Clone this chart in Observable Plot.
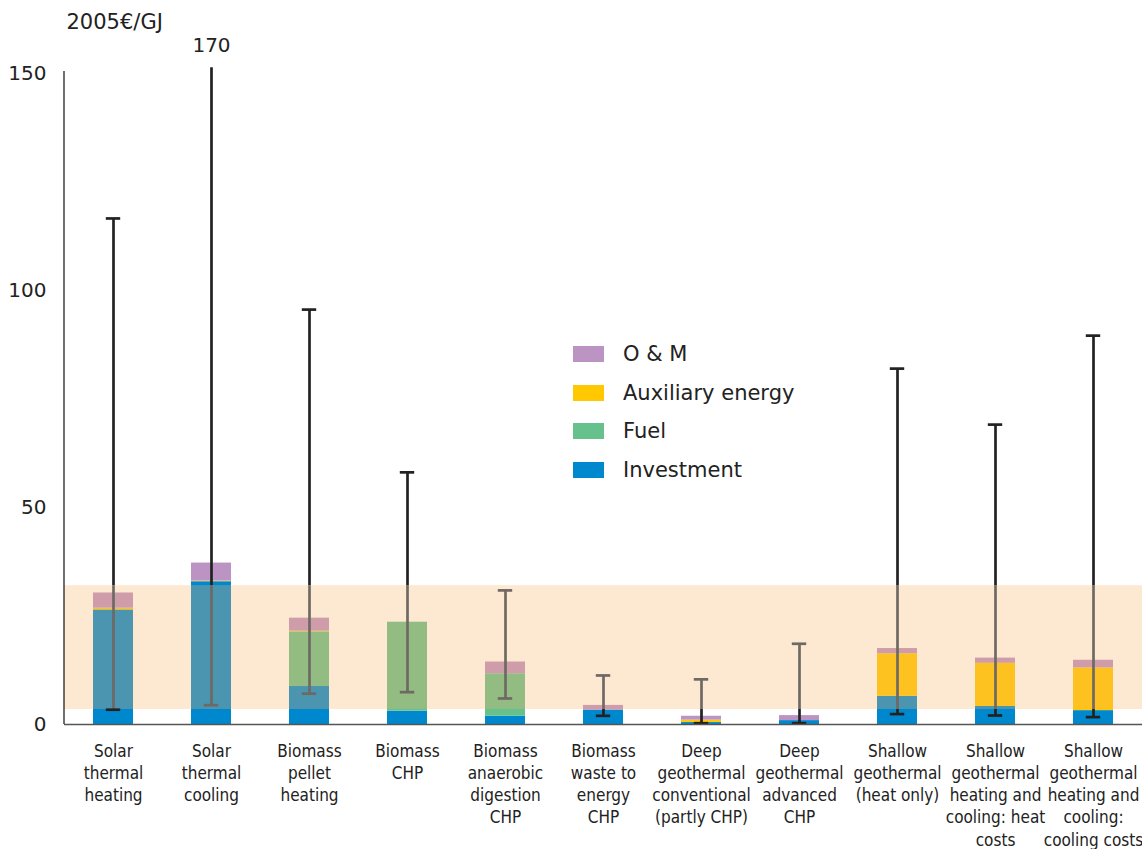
<!DOCTYPE html>
<html>
<head>
<meta charset="utf-8">
<script src="https://cdn.jsdelivr.net/npm/d3@7"></script>
<script src="https://cdn.jsdelivr.net/npm/@observablehq/plot@0.6"></script>
<style>
  body { margin: 0; background: #fff; font-family: "DejaVu Sans", sans-serif; }
  #wrap { position: relative; width: 1142px; height: 849px; }
  .lg { position: absolute; display: flex; align-items: center; font-size: 21px; color: #222; white-space: nowrap; }
  .sw { width: 31px; height: 16px; margin-right: 19px; }
</style>
</head>
<body>
<div id="wrap"></div>
<script>
const categories = [
  "Solar\nthermal\nheating",
  "Solar\nthermal\ncooling",
  "Biomass\npellet\nheating",
  "Biomass\nCHP",
  "Biomass\nanaerobic\ndigestion\nCHP",
  "Biomass\nwaste to\nenergy\nCHP",
  "Deep\ngeothermal\nconventional\n(partly CHP)",
  "Deep\ngeothermal\nadvanced\nCHP",
  "Shallow\ngeothermal\n(heat only)",
  "Shallow\ngeothermal\nheating and\ncooling: heat\ncosts",
  "Shallow\ngeothermal\nheating and\ncooling:\ncooling costs"
];
const components = ["Investment", "Fuel", "Auxiliary energy", "O & M"];
const componentColors = ["#0088ce", "#66c18c", "#ffc800", "#bc94c4"];
const investment = [26.4, 32.9, 8.75, 3.07, 1.9, 3.3, 0.45, 0.9, 6.5, 4.15, 3.2];
const fuel       = [0, 0, 12.6, 20.5, 9.8, 0, 0, 0, 0, 0, 0];
const auxiliary  = [0.4, 0.15, 0.15, 0, 0, 0, 0.55, 0, 9.8, 9.95, 9.85];
const om         = [3.5, 4.15, 3.0, 0, 2.7, 1.1, 0.9, 1.15, 1.2, 1.2, 1.75];
const errLow  = [3.4, 4.45, 7.1, 7.45, 6.0, 2.0, 0.3, 0.3, 2.4, 2.07, 1.7];
const errHigh = [116.6, 170, 95.6, 58.1, 30.9, 11.3, 10.4, 18.6, 82.0, 69.1, 89.6];
const bandRange = [3.46, 32.0];
const yTicks = [0, 50, 100, 150];
const unitLabel = "2005€/GJ";

const yMax = 150;
const series = [investment, fuel, auxiliary, om];
const rows = categories.flatMap((c, i) => components.map((k, j) => ({cat: c, comp: k, value: series[j][i]})));

const [bLo, bHi] = bandRange;
const blackSegs = [], graySegs = [], blackCaps = [], grayCaps = [];
categories.forEach((c, i) => {
  const lo = errLow[i];
  const hi = Math.min(errHigh[i], yMax + 1.3);
  if (lo < bLo) blackSegs.push({cat: c, y1: lo, y2: Math.min(hi, bLo)});
  const a = Math.max(lo, bLo), b = Math.min(hi, bHi);
  if (b > a) graySegs.push({cat: c, y1: a, y2: b});
  if (hi > bHi) blackSegs.push({cat: c, y1: Math.max(lo, bHi), y2: hi});
  const inBand = v => v >= bLo && v <= bHi;
  (inBand(lo) ? grayCaps : blackCaps).push({cat: c, y: lo});
  if (errHigh[i] <= yMax) (inBand(errHigh[i]) ? grayCaps : blackCaps).push({cat: c, y: errHigh[i]});
});
const overflow = categories.map((c, i) => ({cat: c, hi: errHigh[i]})).filter(d => d.hi > yMax);

const ink = "#222";
const gray = "#6e6964";

const yAxisLine = (index, scales, values, dimensions) => {
  const x = dimensions.marginLeft;
  const line = document.createElementNS("http://www.w3.org/2000/svg", "line");
  line.setAttribute("x1", x); line.setAttribute("x2", x);
  line.setAttribute("y1", scales.y(yMax) - 2); line.setAttribute("y2", scales.y(0));
  line.setAttribute("stroke", "#333"); line.setAttribute("stroke-width", 1.4);
  return line;
};

const chart = Plot.plot({
  width: 1142,
  height: 849,
  marginTop: 73,
  marginBottom: 125,
  marginLeft: 64,
  marginRight: 0,
  style: {fontFamily: "'DejaVu Sans', sans-serif", color: ink, background: "#fff"},
  x: {domain: categories, paddingInner: 0.59, paddingOuter: 0.295, label: null},
  y: {domain: [0, yMax], label: null},
  color: {domain: components, range: componentColors},
  marks: [
    Plot.barY(rows, {x: "cat", y: "value", fill: "comp", order: components}),
    Plot.rect([{lo: bLo, hi: bHi}], {y1: "lo", y2: "hi", fill: "rgb(248,178,105)", fillOpacity: 0.3}),
    Plot.ruleX(graySegs, {x: "cat", y1: "y1", y2: "y2", stroke: gray, strokeWidth: 2.7}),
    Plot.ruleX(blackSegs, {x: "cat", y1: "y1", y2: "y2", stroke: ink, strokeWidth: 2.7}),
    Plot.tickY(grayCaps, {x: "cat", y: "y", stroke: gray, strokeWidth: 2.7, inset: 12.8}),
    Plot.tickY(blackCaps, {x: "cat", y: "y", stroke: ink, strokeWidth: 2.7, inset: 12.8}),
    Plot.ruleY([0], {stroke: "#555", strokeWidth: 1.5}),
    yAxisLine,
    Plot.axisY({ticks: yTicks, tickSize: 0, tickPadding: 18, fontSize: 20, label: null}),
    Plot.axisX({tickSize: 0, tickPadding: 17, fontSize: 17, lineHeight: 1.3, label: null,
                fontFamily: "'DejaVu Sans Condensed', 'DejaVu Sans', sans-serif"}),
    Plot.text(overflow, {x: "cat", text: d => String(d.hi), frameAnchor: "top", lineAnchor: "middle", dy: -28, fontSize: 20}),
    Plot.text([unitLabel], {text: d => d, frameAnchor: "top-left", lineAnchor: "middle", textAnchor: "start", dx: 2, dy: -51, fontSize: 21})
  ]
});

const wrap = document.getElementById("wrap");
wrap.appendChild(chart);

// legend (top to bottom: reverse stacking order)
const legendOrder = components.map((k, j) => ({k, color: componentColors[j]})).reverse();
legendOrder.forEach((d, i) => {
  const item = document.createElement("div");
  item.className = "lg";
  item.style.left = "573px";
  item.style.top = (354 + i * 38.5 - 14) + "px";
  item.style.height = "28px";
  const sw = document.createElement("div");
  sw.className = "sw";
  sw.style.background = d.color;
  const tx = document.createElement("span");
  tx.textContent = d.k;
  item.appendChild(sw);
  item.appendChild(tx);
  wrap.appendChild(item);
});
</script>
</body>
</html>
